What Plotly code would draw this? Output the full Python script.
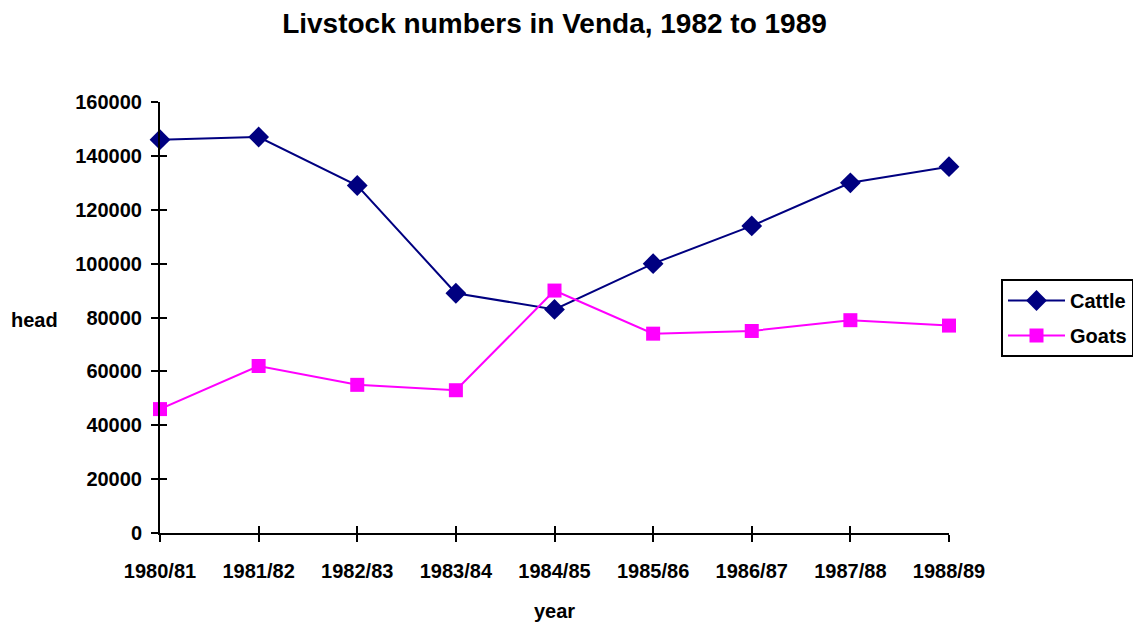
import plotly.graph_objects as go

years = ["1980/81", "1981/82", "1982/83", "1983/84", "1984/85",
         "1985/86", "1986/87", "1987/88", "1988/89"]
cattle = [146000, 147000, 129000, 89000, 83000, 100000, 114000, 130000, 136000]
goats = [46000, 62000, 55000, 53000, 90000, 74000, 75000, 79000, 77000]
y_ticks = [0, 20000, 40000, 60000, 80000, 100000, 120000, 140000, 160000]

FONT = "Liberation Sans, Arial, sans-serif"
W, H = 1125, 617
L, R, T, B = 152, 184, 94, 92
pw = W - L - R
ph = H - T - B

fig = go.Figure()
# invisible helper trace so the overlay axes (inner half of crossing ticks) render
fig.add_trace(go.Scatter(
    x=years, y=cattle, xaxis="x2", yaxis="y2", mode="markers",
    marker=dict(opacity=0), showlegend=False, hoverinfo="skip",
))
fig.add_trace(go.Scatter(
    x=years, y=cattle, name="Cattle", mode="lines+markers",
    line=dict(color="#000080", width=2),
    marker=dict(symbol="diamond", size=16, color="#000080"),
    cliponaxis=False, legendgroup="c",
))
fig.add_trace(go.Scatter(
    x=years, y=goats, name="Goats", mode="lines+markers",
    line=dict(color="#FF00FF", width=2),
    marker=dict(symbol="square", size=14, color="#FF00FF"),
    cliponaxis=False, legendgroup="g",
))

axis_common = dict(
    showgrid=False, zeroline=False,
    showline=True, linecolor="black", linewidth=2,
    ticks="outside", ticklen=7, tickwidth=2, tickcolor="black",
    tickfont=dict(size=20),
)

fig.update_layout(
    width=W, height=H,
    paper_bgcolor="white", plot_bgcolor="white",
    margin=dict(l=L, r=R, t=T, b=B, autoexpand=False),
    font=dict(family=FONT, size=20, color="black", weight="bold"),
    title=dict(text="Livstock numbers in Venda, 1982 to 1989",
               x=0.5, xref="paper", y=1 - 15 / H, yref="container",
               xanchor="center", yanchor="middle",
               font=dict(size=28, family=FONT, weight="bold")),
    xaxis=dict(
        type="category", range=[0, 8], ticklabelstandoff=12,
        **axis_common,
    ),
    yaxis=dict(
        range=[0, 160000], tickvals=y_ticks, ticktext=[str(v) for v in y_ticks],
        ticklabelstandoff=5,
        **axis_common,
    ),
    xaxis2=dict(
        type="category", range=[0, 8], overlaying="x", side="bottom",
        showgrid=False, zeroline=False, showline=False, showticklabels=False,
        ticks="inside", ticklen=7, tickwidth=2, tickcolor="black",
    ),
    yaxis2=dict(
        range=[0, 160000], overlaying="y", side="left", tickvals=y_ticks,
        showgrid=False, zeroline=False, showline=False, showticklabels=False,
        ticks="inside", ticklen=7, tickwidth=2, tickcolor="black",
    ),
    legend=dict(
        x=(1001 - 160) / pw, y=(533 - 279) / ph, xanchor="left", yanchor="top",
        xref="paper", yref="paper",
        bordercolor="black", borderwidth=2, bgcolor="white",
        font=dict(size=20), tracegroupgap=6, itemwidth=57,
    ),
    showlegend=True,
)

fig.add_annotation(
    text="head", xref="paper", yref="paper",
    x=(35 - 160) / pw, y=(533 - 320) / ph, showarrow=False,
    xanchor="center", yanchor="middle", font=dict(size=20),
)
fig.add_annotation(
    text="year", xref="paper", yref="paper",
    x=0.5, y=(533 - 611) / ph, showarrow=False,
    xanchor="center", yanchor="middle", font=dict(size=20),
)

fig.write_html("out.html")
